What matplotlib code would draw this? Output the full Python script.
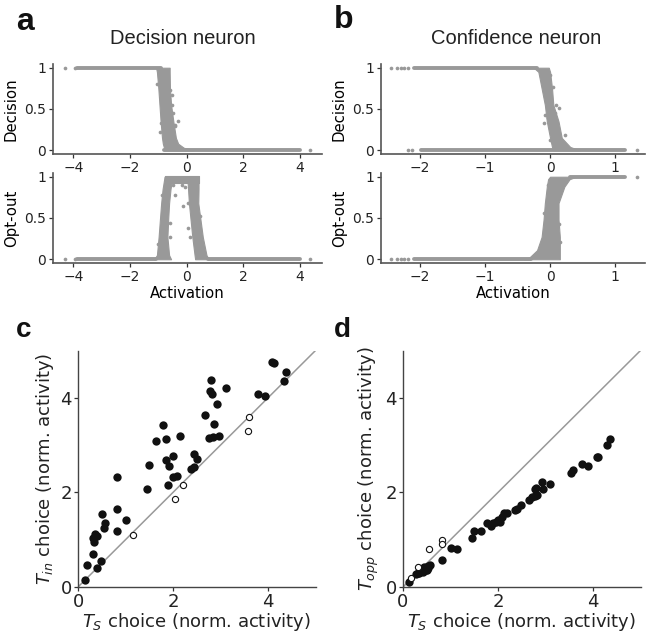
import matplotlib
matplotlib.use('Agg')
import matplotlib.pyplot as plt

plt.rcParams['font.family'] = ['DejaVu Sans']
plt.rcParams['mathtext.fontset'] = 'dejavusans'

GRAY = '#999999'

# ---- panel a: decision neuron (activation -> output) ----
a_dec_high = [-3.88, -0.9]        # plateau at 1
a_dec_low = [-0.8, 4.0]           # plateau at 0
a_dec_iso_x = [-4.29, -3.95, 4.36]
a_dec_iso_y = [1, 1, 0]
a_dec_band_y = [1.0, 0.95, 0.75, 0.55, 0.35, 0.15, 0.08, 0.03, 0.0]
a_dec_band_l = [-1.08, -1.05, -1.00, -0.96, -0.92, -0.87, -0.84, -0.80, -0.78]
a_dec_band_r = [-0.60, -0.60, -0.59, -0.55, -0.47, -0.38, -0.30, -0.10, 0.25]
a_dec_out_x = [-1.04, -0.59, -0.53, -0.83, -0.50, -0.89, -0.42, -0.30, -0.94, -0.65, -0.47, -0.41]
a_dec_out_y = [0.80, 0.73, 0.67, 0.63, 0.55, 0.33, 0.31, 0.35, 0.22, 0.16, 0.45, 0.29]

a_opt_low = [[-3.88, -1.1], [0.75, 4.0]]
a_opt_iso_x = [-4.29, -3.95, 4.36]
a_opt_iso_y = [0, 0, 0]
a_opt_left_y = [0.0, 0.05, 0.27, 0.5, 0.68, 0.85, 1.0]
a_opt_left_l = [-1.15, -1.05, -0.99, -0.94, -0.90, -0.85, -0.78]
a_opt_left_r = [-0.55, -0.62, -0.68, -0.65, -0.62, -0.57, -0.50]
a_opt_top_x = [-0.77, 0.42]
a_opt_top_lo = [0.93, 0.93]
a_opt_right_y = [1.0, 0.85, 0.68, 0.27, 0.05, 0.0]
a_opt_right_l = [0.02, 0.05, 0.08, 0.20, 0.28, 0.30]
a_opt_right_r = [0.42, 0.42, 0.41, 0.57, 0.70, 0.78]
a_opt_out_x = [-0.88, -0.47, -0.18, -0.06, -0.12, 0.06, 0.06, 0.12, -1.00, -0.59, -0.59, -0.41, -0.77, 0.47]
a_opt_out_y = [0.78, 0.90, 0.90, 0.88, 0.64, 0.68, 0.38, 0.27, 0.19, 0.27, 0.44, 0.78, 0.72, 0.52]

# ---- panel b: confidence neuron ----
b_dec_high = [-2.1, -0.2]
b_dec_low = [-1.98, 1.15]
b_dec_iso_x = [-2.44, -2.36, -2.30, -2.25, -2.18, -2.18, -2.13, 1.33]
b_dec_iso_y = [1, 1, 1, 1, 1, 0, 0, 0]
b_dec_band_y = [1.0, 0.95, 0.75, 0.55, 0.35, 0.15, 0.04, 0.0]
b_dec_band_l = [-0.25, -0.18, -0.13, -0.08, -0.05, 0.0, 0.03, 0.05]
b_dec_band_r = [-0.02, 0.0, 0.03, 0.05, 0.13, 0.18, 0.31, 0.45]
b_dec_out_x = [0.0, 0.05, 0.09, 0.13, -0.10, -0.03, 0.23, 0.0, 0.08, -0.08]
b_dec_out_y = [0.91, 0.77, 0.55, 0.51, 0.33, 0.39, 0.18, 0.12, 0.45, 0.43]

b_opt_low = [-2.1, -0.3]
b_opt_high = [0.3, 1.15]
b_opt_iso_x = [-2.44, -2.36, -2.30, -2.25, -2.18, 1.33]
b_opt_iso_y = [0, 0, 0, 0, 0, 1]
b_opt_band_y = [0.0, 0.02, 0.11, 0.27, 0.48, 0.68, 0.88, 0.97, 1.0]
b_opt_band_l = [-0.40, -0.32, -0.20, -0.13, -0.10, -0.08, -0.05, -0.03, 0.0]
b_opt_band_r = [0.15, 0.15, 0.15, 0.15, 0.13, 0.13, 0.22, 0.30, 0.40]
b_opt_out_x = [-0.10, -0.08, 0.15, -0.03, 0.13, -0.05]
b_opt_out_y = [0.56, 0.35, 0.21, 0.90, 0.43, 0.13]

# ---- panel c: T_in vs T_S ----
c_fill_x = [0.14, 0.18, 0.32, 0.39, 0.48, 0.32, 0.35, 0.34, 0.41, 0.51, 0.55, 0.57, 0.82, 0.82,
            0.82, 1.02, 1.46, 1.50, 1.65, 1.78, 1.85, 1.86, 1.90, 1.92, 1.99, 2.01, 2.08, 2.14,
            2.37, 2.44, 2.45, 2.50, 2.68, 2.79, 2.78, 2.83, 2.76, 2.84, 2.86, 2.93, 2.97, 3.12,
            3.78, 3.93, 4.08, 4.12, 4.33, 4.38]
c_fill_y = [0.14, 0.47, 0.70, 0.40, 0.56, 1.03, 1.13, 0.95, 1.08, 1.54, 1.25, 1.35, 1.18, 1.65,
            2.32, 1.41, 2.07, 2.58, 3.08, 3.42, 3.12, 2.68, 2.16, 2.56, 2.77, 2.32, 2.34, 3.19,
            2.49, 2.54, 2.82, 2.70, 3.64, 4.37, 4.15, 4.08, 3.14, 3.18, 3.45, 3.87, 3.20, 4.20,
            4.08, 4.03, 4.76, 4.73, 4.35, 4.54]
c_open_x = [1.15, 2.04, 2.20, 3.57, 3.61]
c_open_y = [1.10, 1.85, 2.16, 3.29, 3.59]

# ---- panel d: T_opp vs T_S ----
d_fill_x = [0.13, 0.28, 0.31, 0.33, 0.36, 0.38, 0.42, 0.42, 0.45, 0.48, 0.49, 0.50, 0.52, 0.53,
            0.56, 0.82, 1.02, 1.14, 1.45, 1.49, 1.64, 1.77, 1.85, 1.89, 1.95, 2.00, 2.04, 2.08,
            2.12, 2.19, 2.36, 2.41, 2.48, 2.66, 2.71, 2.78, 2.83, 2.78, 2.81, 2.94, 2.92, 3.09,
            3.53, 3.57, 3.76, 3.90, 4.08, 4.11, 4.30, 4.36]
d_fill_y = [0.10, 0.27, 0.30, 0.30, 0.33, 0.34, 0.37, 0.32, 0.42, 0.40, 0.35, 0.35, 0.41, 0.44,
            0.47, 0.58, 0.82, 0.81, 1.04, 1.19, 1.19, 1.36, 1.30, 1.35, 1.38, 1.42, 1.38, 1.49,
            1.56, 1.56, 1.63, 1.64, 1.73, 1.84, 1.91, 1.92, 1.94, 2.07, 2.09, 2.07, 2.21, 2.17,
            2.40, 2.47, 2.61, 2.56, 2.74, 2.75, 3.00, 3.12]
d_open_x = [0.16, 0.31, 0.54, 0.83, 0.83]
d_open_y = [0.19, 0.42, 0.81, 1.00, 0.91]

W, H = 646, 634
fig = plt.figure(figsize=(W / 100, H / 100), dpi=100)


def ax_px(left, top, right, bottom):
    return fig.add_axes([left / W, 1 - bottom / H, (right - left) / W, (bottom - top) / H])


def style_top(ax, xlim, xticks):
    ax.set_xlim(*xlim)
    ax.set_ylim(-0.05, 1.05)
    ax.set_xticks(xticks)
    ax.set_xticklabels([f'{t:g}'.replace('-', '\u2212') for t in xticks])
    ax.set_yticks([0, 0.5, 1])
    ax.set_yticklabels(['0', '0.5', '1'])
    for s in ['top', 'right']:
        ax.spines[s].set_visible(False)
    for s in ['left', 'bottom']:
        ax.spines[s].set_color('#555555')
        ax.spines[s].set_linewidth(1.2)
    ax.tick_params(labelsize=10, length=3, width=0.9, pad=2, color='#333333', labelcolor='#222222')


def plateau(ax, xs, y):
    ax.plot(xs, [y, y], color=GRAY, lw=2.8, solid_capstyle='round', zorder=2)


def dots(ax, x, y):
    ax.scatter(x, y, s=7, color=GRAY, linewidths=0, zorder=3)


# a top
ax = ax_px(53, 63.6, 322, 154.4)
plateau(ax, a_dec_high, 1)
plateau(ax, a_dec_low, 0)
ax.fill_betweenx(a_dec_band_y, a_dec_band_l, a_dec_band_r, color=GRAY, lw=0.8, zorder=2)
dots(ax, a_dec_iso_x, a_dec_iso_y)
dots(ax, a_dec_out_x, a_dec_out_y)
style_top(ax, (-4.72, 4.78), [-4, -2, 0, 2, 4])
ax.set_ylabel('Decision', fontsize=10.7, labelpad=4)

# a bottom
ax = ax_px(53, 172.6, 322, 263.4)
for seg in a_opt_low:
    plateau(ax, seg, 0)
ax.fill_betweenx(a_opt_left_y, a_opt_left_l, a_opt_left_r, color=GRAY, lw=0.8, zorder=2)
ax.fill_betweenx(a_opt_right_y, a_opt_right_l, a_opt_right_r, color=GRAY, lw=0.8, zorder=2)
ax.fill_between(a_opt_top_x, a_opt_top_lo, [1.01, 1.01], color=GRAY, lw=0.8, zorder=2)
dots(ax, a_opt_iso_x, a_opt_iso_y)
dots(ax, a_opt_out_x, a_opt_out_y)
style_top(ax, (-4.72, 4.78), [-4, -2, 0, 2, 4])
ax.set_ylabel('Opt-out', fontsize=10.7, labelpad=4)
ax.set_xlabel('Activation', fontsize=10.7, labelpad=1)

# b top
ax = ax_px(381, 63.6, 645, 154.4)
plateau(ax, b_dec_high, 1)
plateau(ax, b_dec_low, 0)
ax.fill_betweenx(b_dec_band_y, b_dec_band_l, b_dec_band_r, color=GRAY, lw=0.8, zorder=2)
dots(ax, b_dec_iso_x, b_dec_iso_y)
dots(ax, b_dec_out_x, b_dec_out_y)
style_top(ax, (-2.6, 1.46), [-2, -1, 0, 1])
ax.set_ylabel('Decision', fontsize=10.7, labelpad=4)

# b bottom
ax = ax_px(381, 172.6, 645, 263.4)
plateau(ax, b_opt_low, 0)
plateau(ax, b_opt_high, 1)
ax.fill_betweenx(b_opt_band_y, b_opt_band_l, b_opt_band_r, color=GRAY, lw=0.8, zorder=2)
dots(ax, b_opt_iso_x, b_opt_iso_y)
dots(ax, b_opt_out_x, b_opt_out_y)
style_top(ax, (-2.6, 1.46), [-2, -1, 0, 1])
ax.set_ylabel('Opt-out', fontsize=10.7, labelpad=4)
ax.set_xlabel('Activation', fontsize=10.7, labelpad=1)


def style_bottom(ax, ylabel):
    ax.set_xlim(0, 5)
    ax.set_ylim(0, 5)
    ax.set_xticks([0, 2, 4])
    ax.set_yticks([0, 2, 4])
    for s in ['top', 'right']:
        ax.spines[s].set_visible(False)
    for s in ['left', 'bottom']:
        ax.spines[s].set_color('#444444')
        ax.spines[s].set_linewidth(1.0)
    ax.tick_params(labelsize=13, length=3, width=0.9, pad=1.5, color='#333333', labelcolor='#222222')
    ax.set_xlabel('$T_S$ choice (norm. activity)', fontsize=13, labelpad=0, color='#222222')
    ax.set_ylabel(ylabel, fontsize=13, labelpad=3, color='#222222')


# c
ax = ax_px(78, 350.5, 315.5, 587)
ax.plot([0, 5], [0, 5], color=GRAY, lw=1.1, zorder=1)
ax.scatter(c_fill_x, c_fill_y, s=36, color='#111111', linewidths=0, zorder=3, clip_on=False)
ax.scatter(c_open_x, c_open_y, s=20, facecolor='white', edgecolor='#111111', linewidths=0.8, zorder=3)
style_bottom(ax, '$T_{in}$ choice (norm. activity)')

# d
ax = ax_px(403, 350.5, 640.5, 587)
ax.plot([0, 5], [0, 5], color=GRAY, lw=1.1, zorder=1)
ax.scatter(d_fill_x, d_fill_y, s=36, color='#111111', linewidths=0, zorder=3, clip_on=False)
ax.scatter(d_open_x, d_open_y, s=20, facecolor='white', edgecolor='#111111', linewidths=0.8, zorder=3)
style_bottom(ax, '$T_{opp}$ choice (norm. activity)')

# titles and panel letters
fig.text(183 / W, 1 - 43.5 / H, 'Decision neuron', ha='center', va='baseline',
         fontsize=14.5, family='Liberation Sans', color='#222222')
fig.text(516 / W, 1 - 43.5 / H, 'Confidence neuron', ha='center', va='baseline',
         fontsize=14.5, family='Liberation Sans', color='#222222')
for letter, x, y, fs in [('a', 16, 30, 23), ('b', 334, 28, 23), ('c', 16, 337, 20), ('d', 334, 337, 20)]:
    fig.text(x / W, 1 - y / H, letter, ha='left', va='baseline', fontsize=fs,
             family='Liberation Sans', fontweight='bold', color='#111111')

fig.savefig('out.png', dpi=100)
